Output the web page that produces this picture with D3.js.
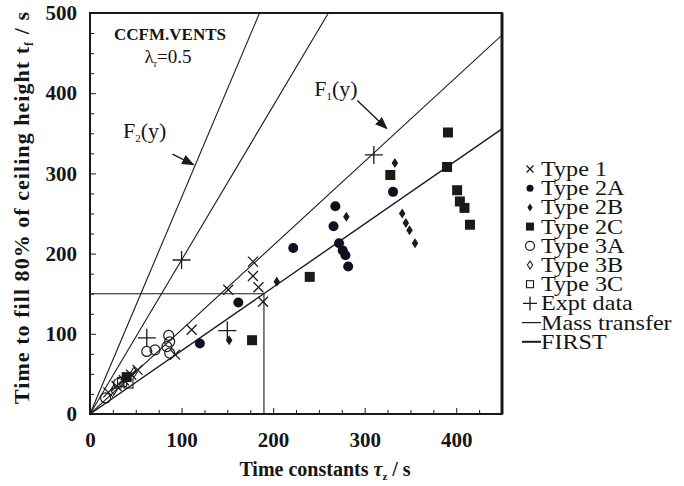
<!DOCTYPE html>
<html>
<head>
<meta charset="utf-8">
<script src="https://cdn.jsdelivr.net/npm/d3@7"></script>
<style>
  body { margin: 0; background: #fff; }
  svg text { font-family: "Liberation Serif", "Times New Roman", serif; fill: #151515; }
</style>
</head>
<body>
<svg id="chart" width="684" height="486"></svg>
<script>
// Data (tau_z / s, t_f / s)
var type1 = [[20, 27], [29, 35], [37, 42], [45, 49], [52, 55], [93, 74], [111, 105], [151, 155], [178, 190], [178, 172], [184, 158], [189, 140]]
var type2A = [[120, 88], [162, 139], [222, 207], [268, 259], [266, 234], [272, 213], [276, 204], [279, 198], [282, 184], [331, 277]]
var type2B = [[152, 92], [204, 165], [280, 246], [333, 313], [341, 250], [345, 238], [349, 229], [355, 213]]
var type2C = [[40, 46], [177, 92], [240, 171], [328, 298], [391, 351], [390, 308], [401, 279], [404, 265], [409, 257], [415, 236]]
var type3A = [[17, 20], [31, 38], [62, 78], [71, 80], [86, 98], [87, 90], [84, 84], [87, 76]]
var type3B = [[26, 30], [48, 52]]
var type3C = [[35, 40], [42, 38]]
var expt = [[62, 95], [100, 192], [150, 104], [310, 323]]

// lines through the origin: t = slope * tau
var lineNames = ['F2', 'steep2', 'F1', 'FIRST']
var lineSlopes = [2.7, 1.92, 1.05, 0.79]

var xTicks = [0, 100, 200, 300, 400]
var yTicks = [0, 100, 200, 300, 400, 500]
var legendLabels = ['Type 1', 'Type 2A', 'Type 2B', 'Type 2C', 'Type 3A', 'Type 3B', 'Type 3C', 'Expt data', 'Mass transfer', 'FIRST']

var svg = d3.select('#chart')
var x = d3.scaleLinear().domain([0, 450]).range([90, 502])
var y = d3.scaleLinear().domain([0, 500]).range([414, 13])
var ink = '#1a1a1a'

svg.append('defs').append('clipPath').attr('id', 'plot')
  .append('rect').attr('x', 90).attr('y', 13).attr('width', 412).attr('height', 401)

svg.append('defs').append('marker')
  .attr('id', 'head').attr('viewBox', '0 0 10 10').attr('refX', 9).attr('refY', 5)
  .attr('markerWidth', 9).attr('markerHeight', 9).attr('orient', 'auto')
  .append('path').attr('d', 'M0,1 L10,5 L0,9 Z').attr('fill', ink)

// axes with inward ticks every 25
var xAxis = d3.axisBottom(x).tickValues(d3.range(0, 451, 25)).tickSize(-4).tickPadding(18)
  .tickFormat(d => xTicks.includes(d) ? d : '')
var gx = svg.append('g').attr('transform', 'translate(0,' + y(0) + ')').call(xAxis)
var yAxis = d3.axisLeft(y).tickValues(d3.range(0, 501, 25)).tickSize(-4).tickPadding(13)
  .tickFormat(d => yTicks.includes(d) ? d : '')
var gy = svg.append('g').attr('transform', 'translate(' + x(0) + ',0)').call(yAxis)
;[gx, gy].forEach(g => {
  g.select('.domain').remove()
  g.selectAll('line').attr('stroke', ink).attr('stroke-width', 1)
  g.selectAll('text').style('font-size', '21px').style('font-weight', 'bold').attr('fill', ink)
})
gx.selectAll('.tick').filter(d => d % 100 === 0).select('line').attr('y2', -6)
gy.selectAll('.tick').filter(d => d % 100 === 0).select('line').attr('x2', 6)

// frame
svg.append('rect').attr('x', x(0)).attr('y', y(500)).attr('width', x(450) - x(0)).attr('height', y(0) - y(500))
  .attr('fill', 'none').attr('stroke', ink).attr('stroke-width', 2)
svg.append('line').attr('x1', x(450)).attr('x2', x(450)).attr('y1', y(500)).attr('y2', y(0))
  .attr('stroke', ink).attr('stroke-width', 3)

var plot = svg.append('g').attr('clip-path', 'url(#plot)')

// model lines
plot.selectAll('line.model').data(lineSlopes).enter().append('line')
  .attr('class', 'model')
  .attr('x1', x(0)).attr('y1', y(0))
  .attr('x2', d => x(Math.min(450, 500 / d)))
  .attr('y2', d => y(Math.min(450, 500 / d) * d))
  .attr('stroke', ink)
  .attr('stroke-width', (d, i) => lineNames[i] === 'FIRST' ? 1.4 : 1.1)

// reference box at tau = 190, t = 150
plot.append('path')
  .attr('d', 'M' + x(0) + ',' + y(150) + 'H' + x(190) + 'V' + y(0))
  .attr('fill', 'none').attr('stroke', ink).attr('stroke-width', 1.1)

// marker shapes
var shapes = {
  cross: (g, s) => g.append('path').attr('d', 'M' + -s + ',' + -s + 'L' + s + ',' + s + 'M' + -s + ',' + s + 'L' + s + ',' + -s)
    .attr('stroke', ink).attr('stroke-width', 1.3).attr('fill', 'none'),
  plus: (g, s) => g.append('path').attr('d', 'M' + -s + ',0H' + s + 'M0,' + -s + 'V' + s)
    .attr('stroke', ink).attr('stroke-width', 1.3).attr('fill', 'none'),
  dot: (g, s) => g.append('circle').attr('r', s).attr('fill', '#101020'),
  ring: (g, s) => g.append('circle').attr('r', s).attr('fill', 'none').attr('stroke', ink).attr('stroke-width', 1.2),
  diamond: (g, s) => g.append('path').attr('d', 'M0,' + -s + 'L' + s * 0.65 + ',0L0,' + s + 'L' + -s * 0.65 + ',0Z').attr('fill', ink),
  odiamond: (g, s) => g.append('path').attr('d', 'M0,' + -s + 'L' + s * 0.65 + ',0L0,' + s + 'L' + -s * 0.65 + ',0Z')
    .attr('fill', 'none').attr('stroke', ink).attr('stroke-width', 1.1),
  square: (g, s) => g.append('rect').attr('x', -s).attr('y', -s).attr('width', 2 * s).attr('height', 2 * s).attr('fill', ink),
  osquare: (g, s) => g.append('rect').attr('x', -s).attr('y', -s).attr('width', 2 * s).attr('height', 2 * s)
    .attr('fill', 'none').attr('stroke', ink).attr('stroke-width', 1.1)
}

var series = [
  [type1, 'cross', 5], [type2A, 'dot', 5], [type2B, 'diamond', 5], [type2C, 'square', 5],
  [type3A, 'ring', 5], [type3B, 'odiamond', 5], [type3C, 'osquare', 4.5], [expt, 'plus', 9]
]
series.forEach(s => {
  s[0].forEach(p => {
    var g = plot.append('g').attr('transform', 'translate(' + x(p[0]) + ',' + y(p[1]) + ')')
    shapes[s[1]](g, s[2])
  })
})

// annotations
svg.append('text').attr('x', 170).attr('y', 40).attr('text-anchor', 'middle')
  .style('font-size', '17px').style('font-weight', 'bold').text('CCFM.VENTS')
var lam = svg.append('text').attr('x', 168).attr('y', 63).attr('text-anchor', 'middle').style('font-size', '19px')
lam.append('tspan').text('λ')
lam.append('tspan').attr('dy', 4).style('font-size', '10px').text('r')
lam.append('tspan').attr('dy', -4).text('=0.5')

function fLabel(px, py, sub) {
  var t = svg.append('text').attr('x', px).attr('y', py).style('font-size', '22px')
  t.append('tspan').text('F')
  t.append('tspan').attr('dy', 4).style('font-size', '11px').text(sub)
  t.append('tspan').attr('dy', -4).text('(y)')
}
fLabel(x(36), y(344), '2')
fLabel(x(245), y(397), '1')

svg.append('line').attr('x1', x(90)).attr('y1', y(324)).attr('x2', x(113)).attr('y2', y(311))
  .attr('stroke', ink).attr('stroke-width', 1.4).attr('marker-end', 'url(#head)')
svg.append('line').attr('x1', x(292)).attr('y1', y(391)).attr('x2', x(324)).attr('y2', y(356))
  .attr('stroke', ink).attr('stroke-width', 1.4).attr('marker-end', 'url(#head)')

// axis titles
var yt = svg.append('text').attr('transform', 'translate(29,208) rotate(-90)').attr('text-anchor', 'middle')
  .attr('textLength', 392).attr('lengthAdjust', 'spacing')
  .style('font-size', '22px').style('font-weight', 'bold')
yt.append('tspan').text('Time to fill 80% of ceiling height t')
yt.append('tspan').attr('dy', 4).style('font-size', '12px').text('f')
yt.append('tspan').attr('dy', -4).text(' / s')

var xt = svg.append('text').attr('x', 325).attr('y', 476).attr('text-anchor', 'middle')
  .style('font-size', '20px').style('font-weight', 'bold')
xt.append('tspan').text('Time constants ')
xt.append('tspan').style('font-style', 'italic').text('τ')
xt.append('tspan').attr('dy', 4).style('font-size', '11px').text('z')
xt.append('tspan').attr('dy', -4).text(' / s')

// legend
var legendShapes = ['cross', 'dot', 'diamond', 'square', 'ring', 'odiamond', 'osquare', 'plus', 'thin', 'thick']
var legendSizes = [3.5, 3.5, 4, 4, 4.5, 4, 3.5, 7, 0, 0]
var lg = svg.append('g')
legendLabels.forEach((lab, i) => {
  var cy = 169 + i * 19.2
  var g = lg.append('g').attr('transform', 'translate(530,' + cy + ')')
  var k = legendShapes[i]
  if (k === 'thin' || k === 'thick') {
    g.append('line').attr('x1', -8).attr('x2', 11).attr('y1', 0).attr('y2', 0)
      .attr('stroke', ink).attr('stroke-width', k === 'thin' ? 1.2 : 2)
  } else {
    shapes[k](g, legendSizes[i])
  }
  // scanned legend type is wide: stretch it a little horizontally
  lg.append('text').attr('transform', 'translate(541,' + (cy + 7) + ') scale(1.15,1)')
    .style('font-size', '21px').text(lab)
})
</script>
</body>
</html>
